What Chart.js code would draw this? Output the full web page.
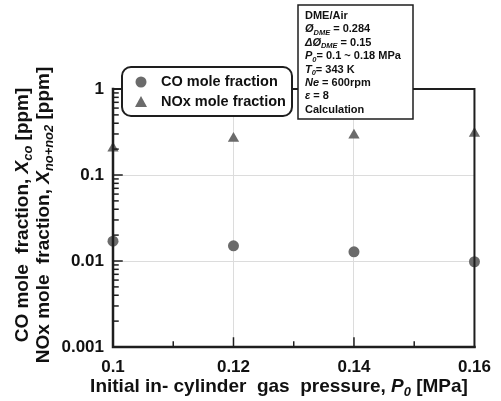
<!DOCTYPE html>
<html>
<head>
<meta charset="utf-8">
<script src="https://cdn.jsdelivr.net/npm/chart.js@4.4.0/dist/chart.umd.min.js"></script>
<style>
  html, body { margin: 0; padding: 0; background: #fff; }
  canvas { display: block; }
</style>
</head>
<body>
<canvas id="chart" width="501" height="401"></canvas>
<script>
// Данные графика
const pressure = [0.1, 0.12, 0.14, 0.16];
const coFraction = [0.017, 0.015, 0.0128, 0.0098];
const noxFraction = [0.205, 0.265, 0.29, 0.303];
const xTicks = [0.1, 0.12, 0.14, 0.16];
const xMinorTicks = [0.11, 0.13, 0.15];
const yTicks = [0.001, 0.01, 0.1, 1];
const legendLabels = ['CO mole fraction', 'NOx mole fraction'];
const infoLines = [
  [{ t: 'DME/Air' }],
  [{ t: 'Ø', i: true }, { t: 'DME', i: true, s: true }, { t: ' = 0.284' }],
  [{ t: 'ΔØ', i: true }, { t: 'DME', i: true, s: true }, { t: ' = 0.15' }],
  [{ t: 'P', i: true }, { t: '0', i: true, s: true }, { t: '= 0.1 ~ 0.18 MPa' }],
  [{ t: 'T', i: true }, { t: '0', i: true, s: true }, { t: '= 343 K' }],
  [{ t: 'Ne', i: true }, { t: ' = 600rpm' }],
  [{ t: 'ε', i: true }, { t: ' = 8' }],
  [{ t: 'Calculation' }],
];

const FAMILY = '"Liberation Sans", Arial, sans-serif';
const MARK = '#6b6b6b';
const AXIS = '#1e1e1e';
const GRID = '#dcdcdc';

function font(size, italic) {
  return `${italic ? 'italic ' : ''}bold ${size}px ${FAMILY}`;
}

// Текст с курсивом и нижними индексами
function richWidth(ctx, segs, size) {
  return segs.reduce((w, s) => {
    ctx.font = font(s.s ? size * 0.68 : size, s.i);
    return w + ctx.measureText(s.t).width;
  }, 0);
}

function drawRich(ctx, segs, x, y, size, align) {
  let cx = x;
  if (align === 'center') cx = x - richWidth(ctx, segs, size) / 2;
  ctx.textAlign = 'left';
  ctx.textBaseline = 'middle';
  segs.forEach((s) => {
    const sz = s.s ? size * 0.68 : size;
    ctx.font = font(sz, s.i);
    ctx.fillText(s.t, cx, s.s ? y + size * 0.3 : y);
    cx += ctx.measureText(s.t).width;
  });
}

const isDecade = (v) => Math.abs(Math.log10(v) - Math.round(Math.log10(v))) < 1e-6;

const framePlugin = {
  id: 'framePlugin',
  afterDatasetsDraw(chart) {
    const { ctx, chartArea: { left, top, right, bottom }, scales: { x, y } } = chart;
    ctx.save();
    ctx.strokeStyle = AXIS;
    ctx.lineCap = 'square';

    // Верх и правая граница
    ctx.lineWidth = 2;
    ctx.beginPath();
    ctx.moveTo(left, top);
    ctx.lineTo(right, top);
    ctx.lineTo(right, bottom);
    ctx.stroke();

    // Оси
    ctx.lineWidth = 2.5;
    ctx.beginPath();
    ctx.moveTo(left, top);
    ctx.lineTo(left, bottom);
    ctx.lineTo(right, bottom);
    ctx.stroke();

    // Деления оси Y (лог)
    ctx.lineWidth = 1.5;
    for (let d = -3; d < 0; d += 1) {
      for (let m = 1; m <= 9; m += 1) {
        const v = m * 10 ** d;
        const py = y.getPixelForValue(v);
        const len = m === 1 ? 9 : 5;
        ctx.beginPath();
        ctx.moveTo(left, py);
        ctx.lineTo(left + len, py);
        ctx.stroke();
      }
    }
    const p1 = y.getPixelForValue(1);
    ctx.beginPath();
    ctx.moveTo(left, p1);
    ctx.lineTo(left + 9, p1);
    ctx.stroke();

    // Деления оси X
    xTicks.slice(1, -1).forEach((v) => {
      const px = x.getPixelForValue(v);
      ctx.beginPath();
      ctx.moveTo(px, bottom);
      ctx.lineTo(px, bottom - 9);
      ctx.stroke();
    });
    xMinorTicks.forEach((v) => {
      const px = x.getPixelForValue(v);
      ctx.beginPath();
      ctx.moveTo(px, bottom);
      ctx.lineTo(px, bottom - 5);
      ctx.stroke();
    });
    ctx.restore();
  },
  afterDraw(chart) {
    const { ctx } = chart;
    ctx.save();
    ctx.fillStyle = '#111';

    // Подпись оси X
    drawRich(ctx, [
      { t: 'Initial in- cylinder  gas  pressure, ' },
      { t: 'P', i: true },
      { t: '0', i: true, s: true },
      { t: ' [MPa]' },
    ], 279, 387, 19, 'center');

    // Подписи оси Y (две строки)
    ctx.save();
    ctx.translate(23, 215);
    ctx.rotate(-Math.PI / 2);
    drawRich(ctx, [
      { t: 'CO mole  fraction, ' },
      { t: 'X', i: true },
      { t: 'co', i: true, s: true },
      { t: ' [ppm]' },
    ], 0, 0, 19, 'center');
    drawRich(ctx, [
      { t: 'NOx mole  fraction, ' },
      { t: 'X', i: true },
      { t: 'no+no2', i: true, s: true },
      { t: ' [ppm]' },
    ], 0, 21, 19, 'center');
    ctx.restore();

    // Легенда
    ctx.fillStyle = '#fff';
    ctx.strokeStyle = AXIS;
    ctx.lineWidth = 2;
    ctx.beginPath();
    ctx.roundRect(122, 67, 170, 49, 9);
    ctx.fill();
    ctx.stroke();
    ctx.fillStyle = MARK;
    ctx.beginPath();
    ctx.arc(141, 82, 5.5, 0, Math.PI * 2);
    ctx.fill();
    ctx.beginPath();
    ctx.moveTo(141, 96);
    ctx.lineTo(147, 107);
    ctx.lineTo(135, 107);
    ctx.closePath();
    ctx.fill();
    ctx.fillStyle = '#111';
    drawRich(ctx, [{ t: legendLabels[0] }], 161, 82, 14.5);
    drawRich(ctx, [{ t: legendLabels[1] }], 161, 102, 14.5);

    // Блок условий
    ctx.fillStyle = '#fff';
    ctx.lineWidth = 1.5;
    ctx.beginPath();
    ctx.rect(298, 5, 115, 114);
    ctx.fill();
    ctx.stroke();
    ctx.fillStyle = '#111';
    infoLines.forEach((line, i) => {
      drawRich(ctx, line, 305, 16 + i * 13.4, 11);
    });
    ctx.restore();
  },
};

const chart = new Chart(document.getElementById('chart'), {
  type: 'scatter',
  data: {
    datasets: [
      {
        label: legendLabels[0],
        data: pressure.map((p, i) => ({ x: p, y: coFraction[i] })),
        pointStyle: 'circle',
        pointRadius: 5.5,
        backgroundColor: MARK,
        borderWidth: 0,
      },
      {
        label: legendLabels[1],
        data: pressure.map((p, i) => ({ x: p, y: noxFraction[i] })),
        pointStyle: 'triangle',
        pointRadius: 6.5,
        backgroundColor: MARK,
        borderWidth: 0,
      },
    ],
  },
  options: {
    responsive: false,
    animation: false,
    clip: false,
    layout: {
      padding: { left: 0, top: 89, right: 24, bottom: 0 },
    },
    scales: {
      x: {
        type: 'linear',
        min: 0.1,
        max: 0.16,
        afterFit: (scale) => { scale.height = 54; },
        afterBuildTicks: (scale) => { scale.ticks = xTicks.map((v) => ({ value: v })); },
        border: { display: false },
        grid: {
          drawTicks: false,
          lineWidth: 1,
          color: (c) => ((c.tick && c.tick.value > 0.105 && c.tick.value < 0.155) ? GRID : 'rgba(0,0,0,0)'),
        },
        ticks: {
          padding: 10,
          color: '#111',
          font: { family: FAMILY, size: 17, weight: 'bold' },
          callback: (v) => String(Number(v.toFixed(2))),
        },
      },
      y: {
        type: 'logarithmic',
        min: 0.001,
        max: 1,
        afterFit: (scale) => { scale.width = 113; },
        afterBuildTicks: (scale) => { scale.ticks = yTicks.map((v) => ({ value: v })); },
        border: { display: false },
        grid: {
          drawTicks: false,
          lineWidth: 1,
          color: (c) => ((c.tick && (Math.abs(c.tick.value - 0.1) < 1e-9 || Math.abs(c.tick.value - 0.01) < 1e-9)) ? GRID : 'rgba(0,0,0,0)'),
        },
        ticks: {
          padding: 9,
          color: '#111',
          font: { family: FAMILY, size: 17, weight: 'bold' },
          callback: (v) => (isDecade(v) ? String(v) : ''),
        },
      },
    },
    plugins: {
      legend: { display: false },
      tooltip: { enabled: false },
      title: { display: false },
    },
  },
  plugins: [framePlugin],
});
</script>
</body>
</html>
